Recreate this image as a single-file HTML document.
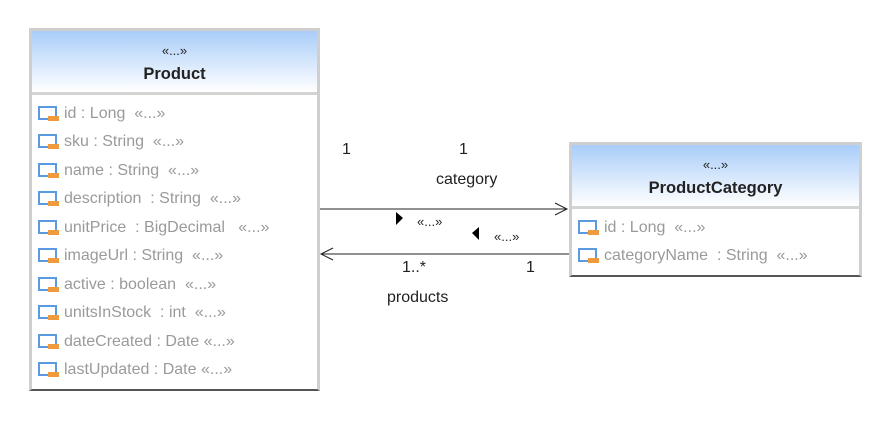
<!DOCTYPE html>
<html><head><meta charset="utf-8"><style>
body{margin:0;width:892px;height:424px;background:#fff;position:relative;overflow:hidden;font-family:"Liberation Sans",sans-serif}
.box{position:absolute;background:#fff;border:3px solid #cfcfcf;border-bottom:2px solid #555;box-sizing:border-box}
.hd{position:absolute;left:0;right:0;top:0;background:linear-gradient(#a9cdf9,#fff);border-bottom:3px solid #d4d4d4;text-align:center;color:#222}
.st{font-size:13px;margin-top:12px}
.nm{font-size:16.5px;font-weight:bold;margin-top:7px}
.at{position:absolute;left:6px;font-size:16px;color:#9a9a9a;white-space:nowrap;height:20px;line-height:20px}
.ic{display:inline-block;position:relative;width:22px;height:16px;vertical-align:-3px;margin-right:4px}
.ic:before{content:"";position:absolute;left:0;top:1px;width:15px;height:10px;border:2px solid #5b9ae0}
.ic:after{content:"";position:absolute;left:10px;top:11px;width:11px;height:5px;background:#f09a3e}
.t{position:absolute;font-size:16px;color:#222;white-space:nowrap}
</style></head><body>
<div class="box" style="left:29px;top:28px;width:291px;height:363px">
 <div class="hd" style="height:61px"><div class="st">«...»</div><div class="nm">Product</div></div>
 <div class="at" style="top:73px"><span class="ic"></span>id : Long &nbsp;«...»</div>
 <div class="at" style="top:101px"><span class="ic"></span>sku : String &nbsp;«...»</div>
 <div class="at" style="top:130px"><span class="ic"></span>name : String &nbsp;«...»</div>
 <div class="at" style="top:158px"><span class="ic"></span>description &nbsp;: String &nbsp;«...»</div>
 <div class="at" style="top:187px"><span class="ic"></span>unitPrice &nbsp;: BigDecimal &nbsp;&nbsp;«...»</div>
 <div class="at" style="top:215px"><span class="ic"></span>imageUrl : String &nbsp;«...»</div>
 <div class="at" style="top:244px"><span class="ic"></span>active : boolean &nbsp;«...»</div>
 <div class="at" style="top:272px"><span class="ic"></span>unitsInStock &nbsp;: int &nbsp;«...»</div>
 <div class="at" style="top:301px"><span class="ic"></span>dateCreated : Date «...»</div>
 <div class="at" style="top:329px"><span class="ic"></span>lastUpdated : Date «...»</div>
</div>
<div class="box" style="left:569px;top:142px;width:293px;height:135px">
 <div class="hd" style="height:61px"><div class="st">«...»</div><div class="nm">ProductCategory</div></div>
 <div class="at" style="top:73px"><span class="ic"></span>id : Long &nbsp;«...»</div>
 <div class="at" style="top:101px"><span class="ic"></span>categoryName &nbsp;: String &nbsp;«...»</div>
</div>
<svg style="position:absolute;left:0;top:0" width="892" height="424">
 <line x1="320" y1="209" x2="567" y2="209" stroke="#222" stroke-width="1"/>
 <polyline points="555,203 567,209 555,215" fill="none" stroke="#222"/>
 <line x1="321" y1="254" x2="569" y2="254" stroke="#222" stroke-width="1"/>
 <polyline points="333,248 321,254 333,260" fill="none" stroke="#222"/>
 <polygon points="396,212 403,218 396,225" fill="#000"/>
 <polygon points="479,227 472,233 479,240" fill="#000"/>
</svg>
<div class="t" style="left:342px;top:141px">1</div>
<div class="t" style="left:459px;top:141px">1</div>
<div class="t" style="left:436px;top:171px">category</div>
<div class="t" style="left:417px;top:214px;font-size:13px">«...»</div>
<div class="t" style="left:494px;top:229px;font-size:13px">«...»</div>
<div class="t" style="left:402px;top:259px">1..*</div>
<div class="t" style="left:526px;top:259px">1</div>
<div class="t" style="left:387px;top:289px">products</div>
</body></html>
